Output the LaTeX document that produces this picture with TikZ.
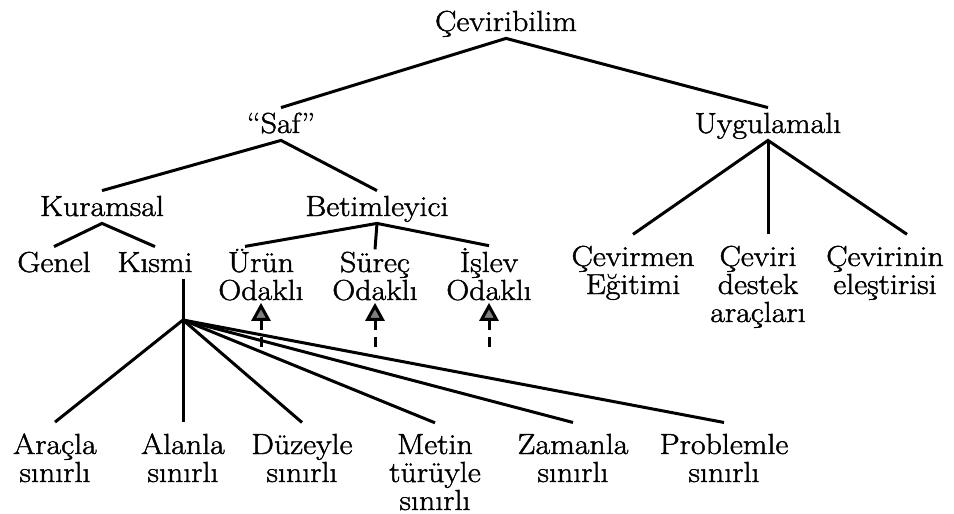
\documentclass[tikz,border=0pt]{standalone}
\usepackage{fontspec}
\setmainfont{Latin Modern Roman}[FakeStretch=1.1, FakeBold=1.5]
\usepackage{tikz}
\usetikzlibrary{arrows.meta}
\tikzset {
	term/.style={anchor=base, align=center, inner xsep=0pt, font=\fontsize{14.5}{14}\selectfont},
	head/.style={term, text height=10pt, text depth=1pt, inner ysep=2.5pt},
	focus/.style={term, inner ysep=1pt},
	leaf/.style={term, inner ysep=5.5pt},
	branch/.style={line width=1.5pt},
	focusArrow/.style={line width=1.5pt, dash pattern=on 5pt off 3.5pt on 20pt,
				-{Triangle[length=9pt, width=9.5pt, fill=gray]}}
}

\begin{document}
\begin{tikzpicture}[x=0.5pt, y=-0.5pt]
	\useasboundingbox (0,0) rectangle (954,514);
	% upper levels
	\node [head] (cev) at (506,31) {Çeviribilim};
	\node [head] (saf) at (281,133) {“Saf”};
	\node [head] (uyg) at (768,133) {Uygulamalı};
	\node [head] (kur) at (102,216) {Kuramsal};
	\node [head] (bet) at (377,216) {Betimleyici};
	\node [head] (gen) at (54,272) {Genel};
	\node [head] (ksm) at (155,272) {Kısmi};
	\node [focus] (uru) at (261,300) {Ürün\\Odaklı};
	\node [focus] (sur) at (375,300) {Süreç\\Odaklı};
	\node [focus] (isl) at (489,300) {İşlev\\Odaklı};
	\node [leaf] (cvm) at (633,294) {Çevirmen\\Eğitimi};
	\node [leaf] (cvd) at (758,322) {Çeviri\\destek\\araçları};
	\node [leaf] (ele) at (885,294) {Çevirinin\\eleştirisi};
	% kinds of partial theory
	\node [leaf] (arc) at (55,482) {Araçla\\sınırlı};
	\node [leaf] (aln) at (183,482) {Alanla\\sınırlı};
	\node [leaf] (dzy) at (302,482) {Düzeyle\\sınırlı};
	\node [leaf] (mtn) at (435,510) {Metin\\türüyle\\sınırlı};
	\node [leaf] (zmn) at (573,482) {Zamanla\\sınırlı};
	\node [leaf] (prb) at (724,482) {Problemle\\sınırlı};
	\coordinate (hub) at (183,320);

	\draw [branch] (saf.north) -- (cev.south) -- (uyg.north);
	\draw [branch] (kur.north) -- (saf.south) -- (bet.north);
	\draw [branch] (gen.north) -- (kur.south) -- (ksm.north);
	\draw [branch] ([xshift=-8pt]uru.north) -- (bet.south) -- (isl.north);
	\draw [branch] (bet.south) -- (sur.north);
	\draw [branch] (cvm.north) -- (uyg.south) -- ([xshift=11pt]ele.north);
	\draw [branch] (uyg.south) -- ([xshift=5pt]cvd.north);
	\draw [branch] (hub |- ksm.south) -- (hub);
	\foreach \leafname in {arc,aln,dzy,mtn,zmn,prb}
		\draw [branch] (hub) -- (\leafname.north);

	\foreach \focus in {uru,sur,isl}
		\draw [focusArrow] ([yshift=-22pt]\focus.south) -- (\focus.south);
\end{tikzpicture}
\end{document}
